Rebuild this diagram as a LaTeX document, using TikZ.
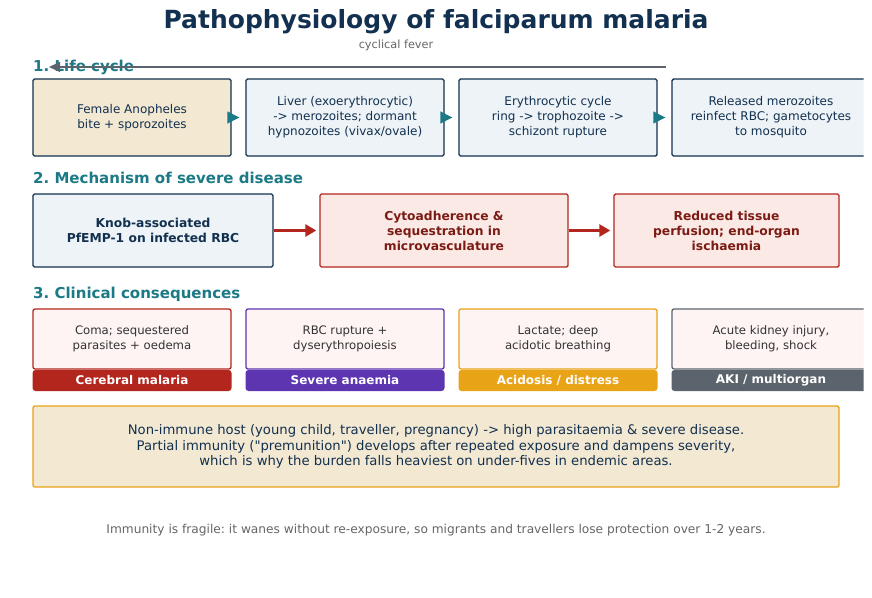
\documentclass[tikz,border=0pt]{standalone}
\usepackage{fontspec}
\setmainfont{DejaVu Sans}[Ligatures=TeXOff]
\usetikzlibrary{arrows.meta}
\frenchspacing
\definecolor{navy}{HTML}{12304F}
\definecolor{teal}{HTML}{1B7A86}
\definecolor{beige}{HTML}{F3E8D2}
\definecolor{lblue}{HTML}{EDF3F7}
\definecolor{dred}{HTML}{B3261E}
\definecolor{rtext}{HTML}{7B1B14}
\definecolor{rfill}{HTML}{FBE9E6}
\definecolor{pfill}{HTML}{FDF4F3}
\definecolor{purp}{HTML}{5E35B1}
\definecolor{orng}{HTML}{E8A317}
\definecolor{slate}{HTML}{5B646C}
\definecolor{gtext}{HTML}{666666}
\definecolor{dtext}{HTML}{333333}
\tikzset{
  lcbox/.style={draw=navy, line width=1.4pt, rounded corners=1.5pt, fill=lblue, minimum width=198pt, minimum height=77pt, align=center, text=navy, font=\fontsize{12}{15}\selectfont, inner sep=0pt},
  mbox/.style={line width=1.4pt, rounded corners=1.5pt, minimum height=73pt, align=center, font=\bfseries\fontsize{12.3}{15}\selectfont, inner sep=0pt},
  cbox/.style={line width=1.3pt, rounded corners=2pt, fill=pfill, minimum width=198pt, minimum height=60pt, align=center, text=dtext, font=\fontsize{11.7}{14.5}\selectfont, inner sep=0pt},
  tagbox/.style={rounded corners=3pt, minimum width=199pt, minimum height=21pt, text=white, font=\bfseries\fontsize{12}{14}\selectfont, inner sep=0pt},
  heading/.style={anchor=west, text=teal, font=\bfseries\fontsize{15}{17}\selectfont, inner sep=0pt},
  tarrow/.style={teal, line width=1.5pt, -{Triangle[length=12pt,width=12pt]}},
  rarrow/.style={dred, line width=2.6pt, -{Triangle[length=11pt,width=12pt]}},
}
\begin{document}
\begin{tikzpicture}[x=1pt,y=-1pt]
\useasboundingbox[fill=white] (0,0) rectangle (872,597);
\begin{scope}
\clip (0,0) rectangle (863.5,597);
\node[font=\bfseries\fontsize{25}{29}\selectfont, text=navy] (title) at (436,22) {Pathophysiology of falciparum malaria};
\node[font=\fontsize{11.3}{13}\selectfont, text=gtext] (fever) at (396,45) {cyclical fever};
% section 1
\node[heading] (h1) at (33,67) {1. Life cycle};
\coordinate (cfR) at (666,67);
\coordinate (cfL) at (49,67);
\draw[slate, line width=1.2pt, -{Triangle[length=11pt,width=10pt]}] (cfR) -- (cfL);
\node[lcbox, fill=beige] (a1) at (132,117.5) {Female Anopheles\\bite + sporozoites};
\node[lcbox] (a2) at (345,117.5) {Liver (exoerythrocytic)\\-> merozoites; dormant\\hypnozoites (vivax/ovale)};
\node[lcbox] (a3) at (558,117.5) {Erythrocytic cycle\\ring -> trophozoite ->\\schizont rupture};
\node[lcbox] (a4) at (771,117.5) {Released merozoites\\reinfect RBC; gametocytes\\to mosquito};
\draw[tarrow, shorten >=6pt] ([xshift=-3pt]a1.east) -- (a2.west);
\draw[tarrow, shorten >=6pt] ([xshift=-3pt]a2.east) -- (a3.west);
\draw[tarrow, shorten >=6pt] ([xshift=-3pt]a3.east) -- (a4.west);
% section 2
\node[heading] (h2) at (33,178) {2. Mechanism of severe disease};
\node[mbox, draw=navy, fill=lblue, text=navy, minimum width=240pt] (b1) at (153,230.5) {Knob-associated\\PfEMP-1 on infected RBC};
\node[mbox, draw=dred, fill=rfill, text=rtext, minimum width=248pt] (b2) at (444,230.5) {Cytoadherence \&\\sequestration in\\microvasculature};
\node[mbox, draw=dred, fill=rfill, text=rtext, minimum width=225pt] (b3) at (726.5,230.5) {Reduced tissue\\perfusion; end-organ\\ischaemia};
\draw[rarrow] (b1.east) -- ([xshift=-3pt]b2.west);
\draw[rarrow] (b2.east) -- ([xshift=-3pt]b3.west);
% section 3
\node[heading] (h3) at (33,294) {3. Clinical consequences};
\node[tagbox, fill=dred] (t1) at (132,380.5) {Cerebral malaria};
\node[tagbox, fill=purp] (t2) at (345,380.5) {Severe anaemia};
\node[tagbox, fill=orng] (t3) at (558,380.5) {Acidosis / distress};
\node[tagbox, fill=slate] (t4) at (771,380.5) {AKI / multiorgan};
\node[cbox, draw=dred] (c1) at (132,339) {Coma; sequestered\\parasites + oedema};
\node[cbox, draw=purp] (c2) at (345,339) {RBC rupture +\\dyserythropoiesis};
\node[cbox, draw=orng] (c3) at (558,339) {Lactate; deep\\acidotic breathing};
\node[cbox, draw=slate] (c4) at (771,339) {Acute kidney injury,\\bleeding, shock};
\end{scope}
% note box
\node[draw=orng, line width=1.3pt, fill=beige, rounded corners=2pt, minimum width=806pt, minimum height=81pt, inner sep=0pt, align=center, text=navy, font=\fontsize{13.2}{15.5}\selectfont] (note) at (436,446.5) {Non-immune host (young child, traveller, pregnancy) -> high parasitaemia \& severe disease.\\Partial immunity ("premunition") develops after repeated exposure and dampens severity,\\which is why the burden falls heaviest on under-fives in endemic areas.};
\node[text=gtext, font=\fontsize{12.2}{14}\selectfont] (foot) at (436,530) {Immunity is fragile: it wanes without re-exposure, so migrants and travellers lose protection over 1-2 years.};
\end{tikzpicture}
\end{document}
